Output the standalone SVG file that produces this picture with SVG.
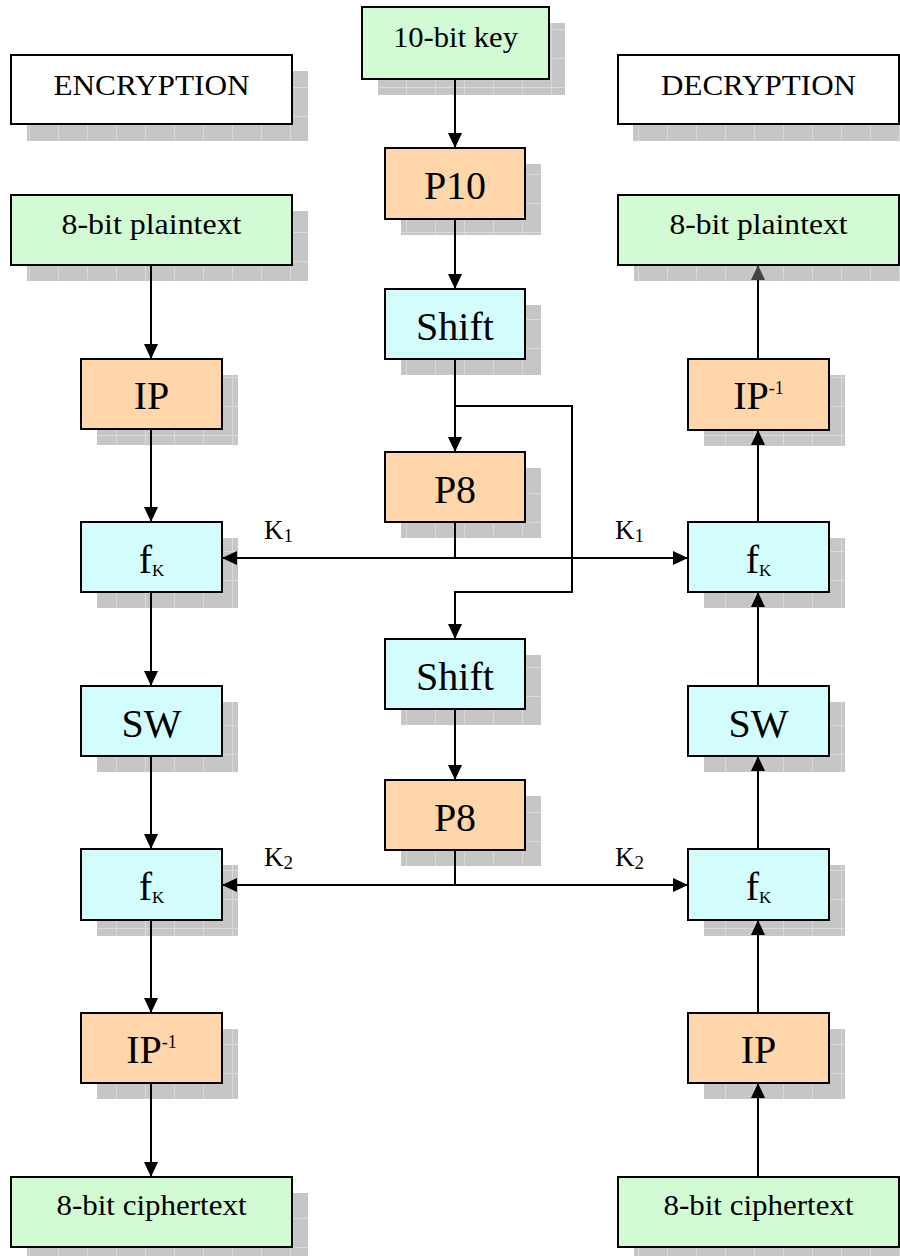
<svg xmlns="http://www.w3.org/2000/svg" width="900" height="1256" viewBox="0 0 900 1256">
<defs>
<pattern id="shadowGrid" patternUnits="userSpaceOnUse" width="29" height="29">
<rect width="29" height="29" fill="#c6c6c6"/>
<path d="M0,0.5 H29 M0.5,0 V29" stroke="#dadada" stroke-width="1" fill="none"/>
</pattern>
<marker id="arr" viewBox="0 0 15 14" refX="15" refY="7" markerWidth="15" markerHeight="14" markerUnits="userSpaceOnUse" orient="auto">
<path d="M0,0 L15,7 L0,14 z" fill="#000"/>
</marker>
<marker id="arrGray" viewBox="0 0 15 14" refX="15" refY="7" markerWidth="15" markerHeight="14" markerUnits="userSpaceOnUse" orient="auto">
<path d="M0,0 L15,7 L0,14 z" fill="#444"/>
</marker>
<marker id="arrStart" viewBox="0 0 15 14" refX="0" refY="7" markerWidth="15" markerHeight="14" markerUnits="userSpaceOnUse" orient="auto">
<path d="M15,0 L0,7 L15,14 z" fill="#000"/>
</marker>
</defs>
<style>
.sh{fill:url(#shadowGrid);}
.box{stroke:#000;stroke-width:2;}
.white{fill:#fff;}
.green{fill:#d3fbd3;}
.peach{fill:#ffd6a9;}
.cyan{fill:#d3fdfd;}
.sm{font-family:"Liberation Serif","Times New Roman",serif;font-size:30px;fill:#000;text-anchor:middle;}
.big{font-family:"Liberation Serif","Times New Roman",serif;font-size:40px;fill:#000;text-anchor:middle;}
.kl{font-family:"Liberation Serif","Times New Roman",serif;font-size:27px;fill:#000;}
.ln{stroke:#000;stroke-width:2;fill:none;}
</style>

<g id="enc-title">
<rect class="sh" x="27" y="71" width="281" height="70"/>
<rect class="box white" x="11" y="55" width="281" height="69"/>
<text class="sm" x="151.5" y="95" textLength="196" lengthAdjust="spacingAndGlyphs">ENCRYPTION</text>
</g>
<g id="dec-title">
<rect class="sh" x="633" y="71" width="281" height="70"/>
<rect class="box white" x="618" y="55" width="281" height="69"/>
<text class="sm" x="758.5" y="95" textLength="195" lengthAdjust="spacingAndGlyphs">DECRYPTION</text>
</g>

<g id="key">
<rect class="sh" x="378" y="23" width="187" height="72"/>
<rect class="box green" x="362" y="7" width="187" height="72"/>
<text class="sm" x="455.5" y="47" textLength="125" lengthAdjust="spacingAndGlyphs">10-bit key</text>
</g>
<g id="p10">
<rect class="sh" x="401" y="164" width="140" height="71"/>
<rect class="box peach" x="385" y="148" width="140" height="71"/>
<text class="big" x="455" y="199">P10</text>
</g>
<g id="shift1">
<rect class="sh" x="401" y="305" width="140" height="70"/>
<rect class="box cyan" x="385" y="289" width="140" height="70"/>
<text class="big" x="455" y="340">Shift</text>
</g>
<g id="p8a">
<rect class="sh" x="401" y="468" width="140" height="70"/>
<rect class="box peach" x="385" y="452" width="140" height="70"/>
<text class="big" x="455" y="503">P8</text>
</g>
<g id="shift2">
<rect class="sh" x="401" y="655" width="140" height="70"/>
<rect class="box cyan" x="385" y="639" width="140" height="70"/>
<text class="big" x="455" y="690">Shift</text>
</g>
<g id="p8b">
<rect class="sh" x="401" y="796" width="140" height="70"/>
<rect class="box peach" x="385" y="780" width="140" height="70"/>
<text class="big" x="455" y="831">P8</text>
</g>

<g id="enc-plain">
<rect class="sh" x="27" y="211" width="281" height="70"/>
<rect class="box green" x="11" y="195" width="281" height="70"/>
<text class="sm" x="151.5" y="234" textLength="180" lengthAdjust="spacingAndGlyphs">8-bit plaintext</text>
</g>
<g id="enc-ip">
<rect class="sh" x="97" y="375" width="141" height="70"/>
<rect class="box peach" x="81" y="359" width="141" height="70"/>
<text class="big" x="151.5" y="409">IP</text>
</g>
<g id="enc-fk1">
<rect class="sh" x="97" y="538" width="141" height="70"/>
<rect class="box cyan" x="81" y="522" width="141" height="70"/>
<text class="big" x="151.5" y="573">f<tspan font-size="17" dy="3">K</tspan></text>
</g>
<g id="enc-sw">
<rect class="sh" x="97" y="702" width="141" height="70"/>
<rect class="box cyan" x="81" y="686" width="141" height="70"/>
<text class="big" x="151.5" y="737">SW</text>
</g>
<g id="enc-fk2">
<rect class="sh" x="97" y="865" width="141" height="71"/>
<rect class="box cyan" x="81" y="849" width="141" height="71"/>
<text class="big" x="151.5" y="900">f<tspan font-size="17" dy="3">K</tspan></text>
</g>
<g id="enc-ipinv">
<rect class="sh" x="97" y="1029" width="141" height="70"/>
<rect class="box peach" x="81" y="1013" width="141" height="70"/>
<text class="big" x="151.5" y="1063">IP<tspan font-size="18" dy="-15">-1</tspan></text>
</g>
<g id="enc-cipher">
<rect class="sh" x="27" y="1193" width="281" height="70"/>
<rect class="box green" x="11" y="1177" width="281" height="70"/>
<text class="sm" x="151.5" y="1215" textLength="190" lengthAdjust="spacingAndGlyphs">8-bit ciphertext</text>
</g>

<g id="dec-plain">
<rect class="sh" x="634" y="211" width="281" height="70"/>
<rect class="box green" x="618" y="195" width="281" height="70"/>
<text class="sm" x="758.5" y="234" textLength="178" lengthAdjust="spacingAndGlyphs">8-bit plaintext</text>
</g>
<g id="dec-ipinv">
<rect class="sh" x="704" y="375" width="141" height="71"/>
<rect class="box peach" x="688" y="359" width="141" height="71"/>
<text class="big" x="758.5" y="409">IP<tspan font-size="18" dy="-15">-1</tspan></text>
</g>
<g id="dec-fk1">
<rect class="sh" x="704" y="538" width="141" height="70"/>
<rect class="box cyan" x="688" y="522" width="141" height="70"/>
<text class="big" x="758.5" y="573">f<tspan font-size="17" dy="3">K</tspan></text>
</g>
<g id="dec-sw">
<rect class="sh" x="704" y="702" width="141" height="70"/>
<rect class="box cyan" x="688" y="686" width="141" height="70"/>
<text class="big" x="758.5" y="737">SW</text>
</g>
<g id="dec-fk2">
<rect class="sh" x="704" y="865" width="141" height="71"/>
<rect class="box cyan" x="688" y="849" width="141" height="71"/>
<text class="big" x="758.5" y="900">f<tspan font-size="17" dy="3">K</tspan></text>
</g>
<g id="dec-ip">
<rect class="sh" x="704" y="1029" width="141" height="70"/>
<rect class="box peach" x="688" y="1013" width="141" height="70"/>
<text class="big" x="758.5" y="1063">IP</text>
</g>
<g id="dec-cipher">
<rect class="sh" x="634" y="1193" width="281" height="70"/>
<rect class="box green" x="618" y="1177" width="281" height="70"/>
<text class="sm" x="758.5" y="1215" textLength="190" lengthAdjust="spacingAndGlyphs">8-bit ciphertext</text>
</g>

<g id="connectors">
<path class="ln" d="M455,79 V148" marker-end="url(#arr)"/>
<path class="ln" d="M455,219 V289" marker-end="url(#arr)"/>
<path class="ln" d="M455,359 V452" marker-end="url(#arr)"/>
<path class="ln" d="M455,406 H572 V592 H455 V639" marker-end="url(#arr)"/>
<path class="ln" d="M455,709 V780" marker-end="url(#arr)"/>
<path class="ln" d="M455,522 V558"/>
<path class="ln" d="M222,558 H688" marker-start="url(#arrStart)" marker-end="url(#arr)"/>
<path class="ln" d="M455,850 V885"/>
<path class="ln" d="M222,885 H688" marker-start="url(#arrStart)" marker-end="url(#arr)"/>

<path class="ln" d="M151,265 V359" marker-end="url(#arr)"/>
<path class="ln" d="M151,429 V522" marker-end="url(#arr)"/>
<path class="ln" d="M151,592 V686" marker-end="url(#arr)"/>
<path class="ln" d="M151,756 V849" marker-end="url(#arr)"/>
<path class="ln" d="M151,920 V1013" marker-end="url(#arr)"/>
<path class="ln" d="M151,1083 V1177" marker-end="url(#arr)"/>

<path class="ln" d="M758,1177 V1083" marker-end="url(#arr)"/>
<path class="ln" d="M758,1013 V920" marker-end="url(#arr)"/>
<path class="ln" d="M758,849 V756" marker-end="url(#arr)"/>
<path class="ln" d="M758,686 V592" marker-end="url(#arr)"/>
<path class="ln" d="M758,522 V430" marker-end="url(#arr)"/>
<path class="ln" d="M758,359 V265" marker-end="url(#arrGray)"/>

<text class="kl" x="264" y="539">K<tspan font-size="19" dy="3">1</tspan></text>
<text class="kl" x="615" y="539">K<tspan font-size="19" dy="3">1</tspan></text>
<text class="kl" x="264" y="866">K<tspan font-size="19" dy="3">2</tspan></text>
<text class="kl" x="615" y="866">K<tspan font-size="19" dy="3">2</tspan></text>
</g>
</svg>
